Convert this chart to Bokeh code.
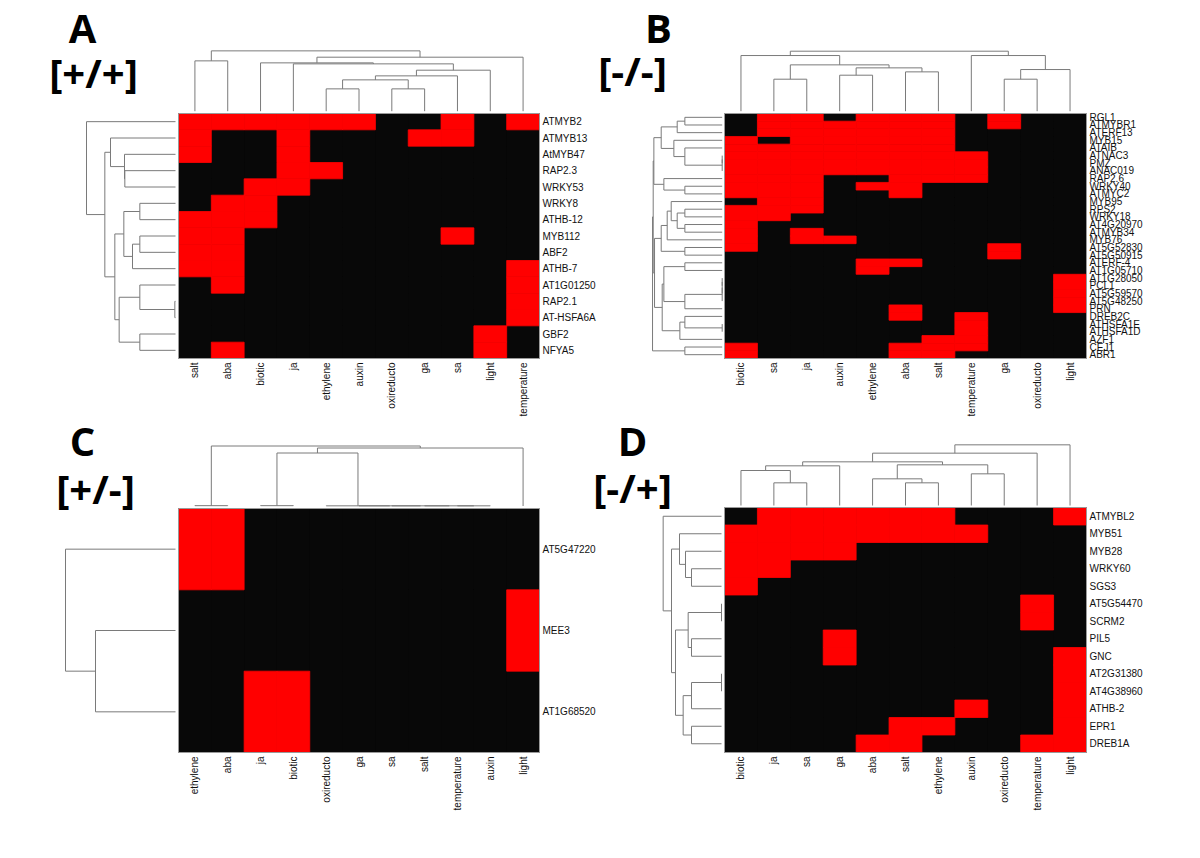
from bokeh.plotting import figure
from bokeh.models import Range1d
from bokeh.embed import file_html
from bokeh.resources import INLINE
from bokeh.core.properties import value
import math

# ---------------- DATA ----------------
# Panel A [+/+]
a_cols = ["salt", "aba", "biotic", "ja", "ethylene", "auxin", "oxireducto", "ga", "sa", "light", "temperature"]
a_rows = ["ATMYB2", "ATMYB13", "AtMYB47", "RAP2.3", "WRKY53", "WRKY8", "ATHB-12", "MYB112", "ABF2",
          "ATHB-7", "AT1G01250", "RAP2.1", "AT-HSFA6A", "GBF2", "NFYA5"]
a_vals = [
    [1, 1, 1, 1, 1, 1, 0, 0, 1, 0, 1],
    [1, 0, 0, 1, 0, 0, 0, 1, 1, 0, 0],
    [1, 0, 0, 1, 0, 0, 0, 0, 0, 0, 0],
    [0, 0, 0, 1, 1, 0, 0, 0, 0, 0, 0],
    [0, 0, 1, 1, 0, 0, 0, 0, 0, 0, 0],
    [0, 1, 1, 0, 0, 0, 0, 0, 0, 0, 0],
    [1, 1, 1, 0, 0, 0, 0, 0, 0, 0, 0],
    [1, 1, 0, 0, 0, 0, 0, 0, 1, 0, 0],
    [1, 1, 0, 0, 0, 0, 0, 0, 0, 0, 0],
    [1, 1, 0, 0, 0, 0, 0, 0, 0, 0, 1],
    [0, 1, 0, 0, 0, 0, 0, 0, 0, 0, 1],
    [0, 0, 0, 0, 0, 0, 0, 0, 0, 0, 1],
    [0, 0, 0, 0, 0, 0, 0, 0, 0, 0, 1],
    [0, 0, 0, 0, 0, 0, 0, 0, 0, 1, 0],
    [0, 1, 0, 0, 0, 0, 0, 0, 0, 1, 0],
]
a_col_tree = [(4, 5, 67), (6, 7, 67), (11, 12, 94), (13, 8, 106), (14, 9, 123), (3, 15, 142),
              (2, 16, 145), (17, 10, 162), (0, 1, 151), (19, 18, 181)]
a_row_tree = [(3, 4, 152), (2, 15, 153), (1, 16, 195), (5, 6, 107), (7, 8, 107), (19, 9, 129),
              (18, 20, 155), (11, 12, 2), (10, 22, 107), (13, 14, 107), (23, 24, 169),
              (21, 25, 182), (17, 26, 212), (0, 27, 267)]

# Panel B [-/-]
b_cols = ["biotic", "sa", "ja", "auxin", "ethylene", "aba", "salt", "temperature", "ga", "oxireducto", "light"]
b_rows = ["RGL1", "ATMYBR1", "ATERF13", "MYB15", "ATAIB", "ATNAC3", "PMZ", "ANAC019", "RAP2.6",
          "WRKY40", "ATMYC2", "MYB95", "RPS2", "WRKY18", "AT4G20970", "ATMYB34", "MYB76",
          "AT5G52830", "AT5G50915", "ATERF-4", "AT1G05710", "AT1G28050", "PCL1", "AT5G59570",
          "AT5G48250", "PRN", "DREB2C", "ATHSFA1E", "ATHSFA1D", "AZF1", "CEJ1", "ABR1"]
b_vals = [
    [0, 1, 1, 0, 1, 1, 1, 0, 1, 0, 0],
    [0, 1, 1, 1, 1, 1, 1, 0, 1, 0, 0],
    [0, 1, 1, 1, 1, 1, 1, 0, 0, 0, 0],
    [1, 0, 1, 1, 1, 1, 1, 0, 0, 0, 0],
    [1, 1, 1, 1, 1, 1, 1, 0, 0, 0, 0],
    [1, 1, 1, 1, 1, 1, 1, 1, 0, 0, 0],
    [1, 1, 1, 1, 1, 1, 1, 1, 0, 0, 0],
    [1, 1, 1, 1, 1, 1, 1, 1, 0, 0, 0],
    [1, 1, 1, 0, 0, 1, 1, 1, 0, 0, 0],
    [1, 1, 1, 0, 1, 1, 0, 0, 0, 0, 0],
    [1, 1, 1, 0, 0, 1, 0, 0, 0, 0, 0],
    [0, 1, 1, 0, 0, 0, 0, 0, 0, 0, 0],
    [1, 1, 1, 0, 0, 0, 0, 0, 0, 0, 0],
    [1, 1, 0, 0, 0, 0, 0, 0, 0, 0, 0],
    [1, 0, 0, 0, 0, 0, 0, 0, 0, 0, 0],
    [1, 0, 1, 0, 0, 0, 0, 0, 0, 0, 0],
    [1, 0, 1, 1, 0, 0, 0, 0, 0, 0, 0],
    [1, 0, 0, 0, 0, 0, 0, 0, 1, 0, 0],
    [0, 0, 0, 0, 0, 0, 0, 0, 1, 0, 0],
    [0, 0, 0, 0, 1, 1, 0, 0, 0, 0, 0],
    [0, 0, 0, 0, 1, 0, 0, 0, 0, 0, 0],
    [0, 0, 0, 0, 0, 0, 0, 0, 0, 0, 1],
    [0, 0, 0, 0, 0, 0, 0, 0, 0, 0, 1],
    [0, 0, 0, 0, 0, 0, 0, 0, 0, 0, 1],
    [0, 0, 0, 0, 0, 0, 0, 0, 0, 0, 1],
    [0, 0, 0, 0, 0, 1, 0, 0, 0, 0, 1],
    [0, 0, 0, 0, 0, 1, 0, 1, 0, 0, 0],
    [0, 0, 0, 0, 0, 0, 0, 1, 0, 0, 0],
    [0, 0, 0, 0, 0, 0, 0, 1, 0, 0, 0],
    [0, 0, 0, 0, 0, 0, 1, 1, 0, 0, 0],
    [1, 0, 0, 0, 0, 1, 1, 1, 0, 0, 0],
    [1, 0, 0, 0, 0, 1, 1, 0, 0, 0, 0],
]
b_col_tree = [(1, 2, 96), (3, 4, 108), (5, 6, 118), (12, 13, 130), (11, 14, 139), (0, 15, 167),
              (8, 9, 96), (17, 10, 125), (7, 18, 167), (16, 19, 180)]
b_row_tree = [(0, 1, 112), (32, 2, 135), (5, 6, 0), (34, 7, 0), (4, 35, 112), (3, 36, 145),
              (33, 37, 183), (9, 10, 112), (8, 39, 175), (38, 40, 205), (12, 13, 112),
              (14, 15, 112), (42, 43, 135), (11, 44, 153), (45, 16, 165), (17, 18, 112),
              (46, 47, 183), (19, 20, 112), (21, 22, 0), (50, 23, 0), (51, 24, 0), (52, 25, 112),
              (49, 53, 175), (27, 28, 0), (26, 55, 112), (56, 29, 127), (54, 57, 180),
              (48, 58, 203), (41, 59, 207), (30, 31, 112), (60, 61, 209)]

# Panel C [+/-]
c_cols = ["ethylene", "aba", "ja", "biotic", "oxireducto", "ga", "sa", "salt", "temperature", "auxin", "light"]
c_rows = ["AT5G47220", "MEE3", "AT1G68520"]
c_vals = [
    [1, 1, 0, 0, 0, 0, 0, 0, 0, 0, 0],
    [0, 0, 0, 0, 0, 0, 0, 0, 0, 0, 1],
    [0, 0, 1, 1, 0, 0, 0, 0, 0, 0, 0],
]
c_col_tree = [(0, 1, 1), (2, 3, 1), (8, 9, 0.5), (7, 13, 0.5), (6, 14, 0.5), (5, 15, 0.5),
              (4, 16, 0.5), (12, 17, 159), (18, 10, 174), (11, 19, 180)]
c_row_tree = [(1, 2, 240), (0, 3, 330)]

# Panel D [-/+]
d_cols = ["biotic", "ja", "sa", "ga", "aba", "salt", "ethylene", "auxin", "oxireducto", "temperature", "light"]
d_rows = ["ATMYBL2", "MYB51", "MYB28", "WRKY60", "SGS3", "AT5G54470", "SCRM2", "PIL5", "GNC",
          "AT2G31380", "AT4G38960", "ATHB-2", "EPR1", "DREB1A"]
d_vals = [
    [0, 1, 1, 1, 1, 1, 1, 0, 0, 0, 1],
    [1, 1, 1, 1, 1, 1, 1, 1, 0, 0, 0],
    [1, 1, 1, 1, 0, 0, 0, 0, 0, 0, 0],
    [1, 1, 0, 0, 0, 0, 0, 0, 0, 0, 0],
    [1, 0, 0, 0, 0, 0, 0, 0, 0, 0, 0],
    [0, 0, 0, 0, 0, 0, 0, 0, 0, 1, 0],
    [0, 0, 0, 0, 0, 0, 0, 0, 0, 1, 0],
    [0, 0, 0, 1, 0, 0, 0, 0, 0, 0, 0],
    [0, 0, 0, 1, 0, 0, 0, 0, 0, 0, 1],
    [0, 0, 0, 0, 0, 0, 0, 0, 0, 0, 1],
    [0, 0, 0, 0, 0, 0, 0, 0, 0, 0, 1],
    [0, 0, 0, 0, 0, 0, 0, 1, 0, 0, 1],
    [0, 0, 0, 0, 0, 1, 1, 0, 0, 0, 1],
    [0, 0, 0, 0, 1, 1, 0, 0, 0, 1, 1],
]
d_col_tree = [(1, 2, 68), (0, 11, 105), (12, 3, 119), (5, 6, 68), (4, 14, 80), (7, 8, 95),
              (15, 16, 122), (13, 17, 131), (18, 9, 157), (19, 10, 182)]
d_row_tree = [(5, 6, 0), (7, 8, 90), (14, 15, 100), (9, 10, 0), (11, 17, 90), (12, 13, 90),
              (18, 19, 115), (16, 20, 138), (3, 4, 90), (2, 22, 108), (1, 23, 126),
              (24, 21, 150), (0, 25, 175)]

letters = ["A", "B", "C", "D"]
signs = ["[+/+]", "[-/-]", "[+/-]", "[-/+]"]

# ---------------- LAYOUT ----------------
W, H = 1184, 842
p = figure(width=W, height=H, x_range=Range1d(0, W), y_range=Range1d(H, 0),
           output_backend="svg", toolbar_location=None, min_border=0)
p.axis.visible = False
p.grid.visible = False
p.outline_line_color = None
p.background_fill_color = "white"

RED = "#ff0000"
BLACK = "#080808"
LINE = "#7a7a7a"
LABEL_FONT = value("Liberation Sans")
DSCALE = 1.0 / 3.0


def tree_segments(n, merges):
    pos = [float(i) for i in range(n)]
    hts = [0.0] * n
    segs = []
    for a, b, h in merges:
        pa, pb = pos[a], pos[b]
        segs.append((pa, hts[a], pa, h))
        segs.append((pb, hts[b], pb, h))
        segs.append((pa, h, pb, h))
        pos.append((pa + pb) / 2.0)
        hts.append(h)
    return segs


def panel(cols, rows, vals, col_tree, row_tree, box, top_base, left_base, letter, sign,
          letter_pos, sign_pos, row_font):
    x0, x1, y0, y1 = box
    nc, nr = len(cols), len(rows)
    cw = (x1 - x0) / nc
    rh = (y1 - y0) / nr
    # matrix background (value 0 colour); cells on top
    p.quad(left=[x0], right=[x1], top=[y0], bottom=[y1], fill_color=BLACK, line_color=None)
    cells = {0: ([], [], [], []), 1: ([], [], [], [])}
    for r in range(nr):
        for c in range(nc):
            L, R, T, B = cells[vals[r][c]]
            L.append(x0 + c * cw)
            R.append(x0 + (c + 1) * cw)
            T.append(y0 + r * rh)
            B.append(y0 + (r + 1) * rh)
    L, R, T, B = cells[0]
    p.quad(left=L, right=R, top=T, bottom=B, fill_color=BLACK, line_color=None)
    L, R, T, B = cells[1]
    p.quad(left=L, right=R, top=T, bottom=B, fill_color=RED, line_color=RED, line_width=0.8)
    p.quad(left=[x0], right=[x1], top=[y0], bottom=[y1], fill_color=None,
           line_color="#9a9a9a", line_width=1)

    # column dendrogram (top)
    sx0, sy0, sx1, sy1 = [], [], [], []
    for a, ha, b, hb in tree_segments(nc, col_tree):
        sx0.append(x0 + cw * (a + 0.5)); sy0.append(top_base - ha * DSCALE)
        sx1.append(x0 + cw * (b + 0.5)); sy1.append(top_base - hb * DSCALE)
    p.segment(x0=sx0, y0=sy0, x1=sx1, y1=sy1, line_color=LINE, line_width=1)

    # row dendrogram (left)
    sx0, sy0, sx1, sy1 = [], [], [], []
    for a, ha, b, hb in tree_segments(nr, row_tree):
        sy0.append(y0 + rh * (a + 0.5)); sx0.append(left_base - ha * DSCALE)
        sy1.append(y0 + rh * (b + 0.5)); sx1.append(left_base - hb * DSCALE)
    p.segment(x0=sx0, y0=sy0, x1=sx1, y1=sy1, line_color=LINE, line_width=1)

    # row labels
    p.text(x=[x1 + 3] * nr, y=[y0 + rh * (i + 0.5) for i in range(nr)], text=rows,
           text_font=LABEL_FONT, text_font_size=value(row_font), text_color="#111111",
           text_align="left", text_baseline="middle")
    # column labels (rotated)
    p.text(x=[x0 + cw * (i + 0.5) for i in range(nc)], y=[y1 + 4] * nc, text=cols,
           angle=math.pi / 2, text_font=LABEL_FONT, text_font_size=value("10px"),
           text_color="#111111", text_align="right", text_baseline="middle")

    p.text(x=[letter_pos[0]], y=[letter_pos[1]], text=[letter], text_font=value("Open Sans"),
           text_font_style="bold", text_font_size=value("40px"), text_color="black",
           text_align="center", text_baseline="middle")
    p.text(x=[sign_pos[0]], y=[sign_pos[1]], text=[sign], text_font=value("Open Sans"),
           text_font_style="bold", text_font_size=value("40px"), text_color="black",
           text_align="center", text_baseline="middle")


panel(a_cols, a_rows, a_vals, a_col_tree, a_row_tree, (178, 539, 113, 358), 110.7, 175.0,
      letters[0], signs[0], (82, 27), (93, 72), "10px")
panel(b_cols, b_rows, b_vals, b_col_tree, b_row_tree, (724, 1086, 113, 358), 110.7, 721.7,
      letters[1], signs[1], (658, 27), (632, 70), "10px")
panel(c_cols, c_rows, c_vals, c_col_tree, c_row_tree, (178, 539, 508, 752), 505.5, 175.0,
      letters[2], signs[2], (82, 440), (95, 488), "10px")
panel(d_cols, d_rows, d_vals, d_col_tree, d_row_tree, (724, 1086, 507, 752), 505.0, 721.0,
      letters[3], signs[3], (632, 440), (632, 487), "10px")

open("out.html", "w").write(file_html(p, INLINE))
